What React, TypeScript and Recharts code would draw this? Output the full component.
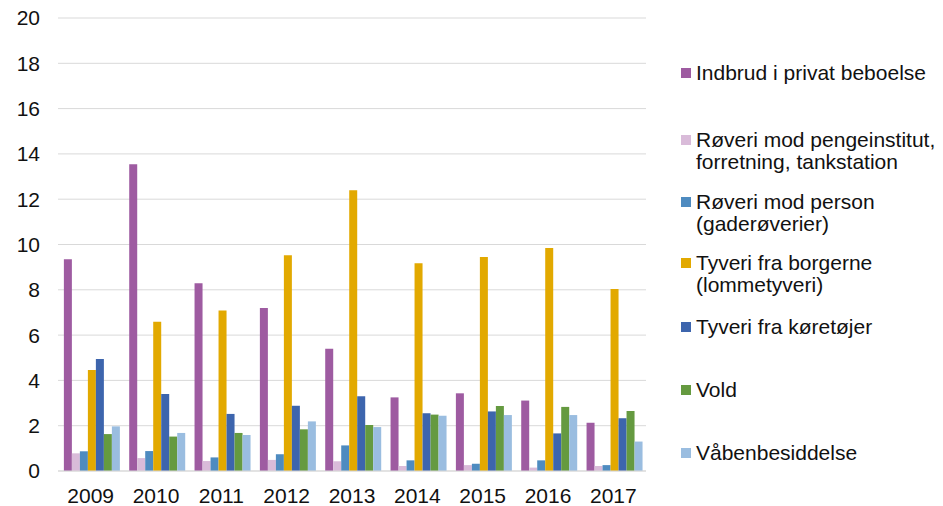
import { BarChart, Bar, XAxis, YAxis, CartesianGrid } from 'recharts';

const years = ['2009', '2010', '2011', '2012', '2013', '2014', '2015', '2016', '2017'];
const indbrud = [9.35, 13.54, 8.29, 7.2, 5.4, 3.25, 3.43, 3.11, 2.13];
const roveriPenge = [0.78, 0.57, 0.44, 0.49, 0.43, 0.22, 0.26, 0.15, 0.22];
const roveriPerson = [0.87, 0.88, 0.6, 0.74, 1.13, 0.47, 0.32, 0.47, 0.26];
const tyveriBorgere = [4.46, 6.59, 7.09, 9.52, 12.39, 9.17, 9.45, 9.85, 8.04];
const tyveriKoretojer = [4.94, 3.4, 2.52, 2.88, 3.3, 2.55, 2.63, 1.66, 2.33];
const vold = [1.63, 1.52, 1.68, 1.84, 2.03, 2.49, 2.87, 2.83, 2.65];
const vaaben = [1.97, 1.68, 1.59, 2.19, 1.94, 2.44, 2.47, 2.47, 1.3];
const yTicks = [0, 2, 4, 6, 8, 10, 12, 14, 16, 18, 20];

const series = [
  { key: 'indbrud', values: indbrud, color: '#9E5BA1', label: ['Indbrud i privat beboelse'] },
  { key: 'roveriPenge', values: roveriPenge, color: '#D9BBD9', label: ['Røveri mod pengeinstitut,', 'forretning, tankstation'] },
  { key: 'roveriPerson', values: roveriPerson, color: '#4E8BC0', label: ['Røveri mod person', '(gaderøverier)'] },
  { key: 'tyveriBorgere', values: tyveriBorgere, color: '#E2A900', label: ['Tyveri fra borgerne', '(lommetyveri)'] },
  { key: 'tyveriKoretojer', values: tyveriKoretojer, color: '#3D65AD', label: ['Tyveri fra køretøjer'] },
  { key: 'vold', values: vold, color: '#659A40', label: ['Vold'] },
  { key: 'vaaben', values: vaaben, color: '#9ABDE0', label: ['Våbenbesiddelse'] },
];

const data = years.map((year, i) => {
  const row: Record<string, string | number> = { year };
  series.forEach((s) => (row[s.key] = s.values[i]));
  return row;
});

const font = '"Liberation Sans", Arial, sans-serif';
// centre of each entry's first text line, in px from the top
const legendTops = [73, 140, 202, 263, 327, 390, 453];

function LegendBox() {
  return (
    <div style={{ position: 'absolute', left: 681, top: 0, width: 262, height: 506, fontFamily: font, fontSize: 21, color: '#111' }}>
      {series.map((s, i) => (
        <div key={s.key} style={{ position: 'absolute', left: 0, top: legendTops[i] - 11, display: 'flex' }}>
          <div style={{ width: 10, height: 10, background: s.color, marginTop: 6, marginRight: 5 }} />
          <div style={{ lineHeight: '22px', whiteSpace: 'nowrap' }}>
            {s.label.map((line) => (
              <div key={line}>{line}</div>
            ))}
          </div>
        </div>
      ))}
    </div>
  );
}

export default function App() {
  return (
    <div style={{ position: 'absolute', left: 0, top: 0, width: 943, height: 506, background: '#fff' }}>
      <BarChart
        width={943}
        height={506}
        data={data}
        margin={{ top: 18, right: 297, bottom: 5, left: 0 }}
        barCategoryGap="9%"
        barGap={0}
      >
        <CartesianGrid stroke="#D9D9D9" vertical={false} />
        <XAxis
          dataKey="year"
          height={30}
          tickLine={false}
          axisLine={{ stroke: '#D9D9D9' }}
          tickMargin={11}
          tick={{ fontSize: 21, fill: '#111', fontFamily: font }}
        />
        <YAxis
          domain={[0, 20]}
          ticks={yTicks}
          width={58}
          tickLine={false}
          axisLine={false}
          tickMargin={12}
          tick={{ fontSize: 21, fill: '#111', fontFamily: font }}
        />
        {series.map((s) => (
          <Bar key={s.key} dataKey={s.key} fill={s.color} isAnimationActive={false} />
        ))}
      </BarChart>
      <LegendBox />
    </div>
  );
}
